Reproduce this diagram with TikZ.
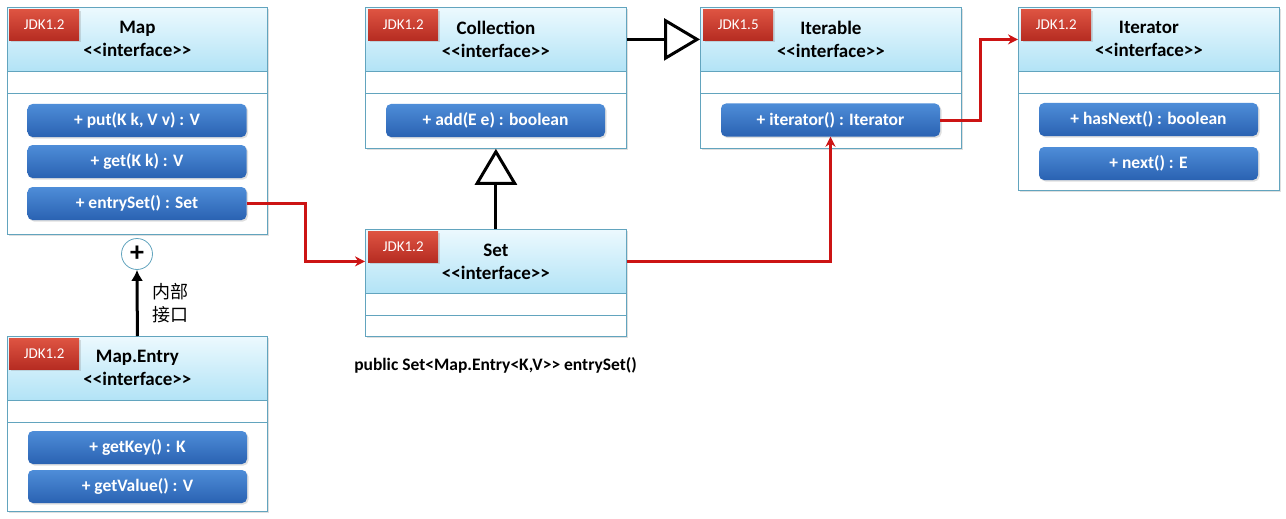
\documentclass[tikz,border=0pt]{standalone}
\usepackage{fontspec}
\setmainfont{Carlito}
\newfontfamily\cjkfont{Noto Sans CJK SC}
\usetikzlibrary{arrows.meta,shadows,positioning}

\definecolor{boxline}{RGB}{98,164,190}
\definecolor{headtop}{RGB}{236,249,254}
\definecolor{headbot}{RGB}{178,227,246}
\definecolor{btntop}{RGB}{78,141,216}
\definecolor{btnbot}{RGB}{42,98,178}
\definecolor{jdktop}{RGB}{222,84,66}
\definecolor{jdkbot}{RGB}{182,44,34}
\definecolor{linkred}{RGB}{204,20,20}

\newcommand\iface{<{}<interface>{}>}

\tikzset{
  softshadow/.style={drop shadow={shadow xshift=1.5pt,shadow yshift=-1.5pt,opacity=0.25}},
  umlbox/.style={draw=boxline, fill=white, line width=0.8pt, anchor=north west,
    inner sep=0pt, softshadow},
  head/.style={draw=boxline, line width=0.8pt, top color=headtop, bottom color=headbot,
    anchor=north west, inner sep=0pt, minimum height=64pt, align=center,
    font=\fontsize{19}{23}\selectfont\bfseries},
  attr/.style={draw=boxline, line width=0.8pt, fill=white, anchor=north west,
    inner sep=0pt, minimum height=22pt},
  jdk/.style={top color=jdktop, bottom color=jdkbot, text=white, anchor=north west,
    minimum width=70pt, minimum height=31pt, inner sep=0pt,
    font=\fontsize{15}{18}\selectfont, softshadow},
  method/.style={rounded corners=5pt, top color=btntop, bottom color=btnbot, text=white,
    minimum width=219pt, minimum height=33pt, inner sep=0pt,
    font=\fontsize{17.5}{20}\selectfont\bfseries, softshadow},
  realize/.style={line width=3pt, -{Triangle[open,length=36pt,width=42pt]}},
  uses/.style={draw=linkred, line width=3pt, -{Stealth[length=10pt,width=10pt]}},
}

\begin{document}
\begin{tikzpicture}[x=1pt,y=-1pt]
  \useasboundingbox (0,0) rectangle (1286,519);

% Map
  \node[umlbox, minimum width=260pt, minimum height=227pt] (mapbox) at (7,7) {};
  \node[head, minimum width=260pt] (map) at (7,7) {Map\\\iface};
  \node[attr, minimum width=260pt] (mapattr) at (7,71) {};
  \node[jdk] (mapjdk) at (9,9) {JDK1.2};
  \node[method] (put) at (137,120.5) {+ put(K k, V v) : V};
  \node[method] (get) at (137,161.5) {+ get(K k) : V};
  \node[method] (entryset) at (137,203.5) {+ entrySet() : Set};

% Map.Entry
  \node[umlbox, minimum width=260pt, minimum height=175pt] (entrybox) at (7,336) {};
  \node[head, minimum width=260pt] (entry) at (7,336) {Map.Entry\\\iface};
  \node[attr, minimum width=260pt] (entryattr) at (7,400) {};
  \node[jdk] (entryjdk) at (9,338) {JDK1.2};
  \node[method] (getkey) at (137.5,447.5) {+ getKey() : K};
  \node[method] (getvalue) at (137.5,486.5) {+ getValue() : V};

% Collection
  \node[umlbox, minimum width=261pt, minimum height=141pt] (collbox) at (365,7) {};
  \node[head, minimum width=261pt] (coll) at (365,7) {Collection\\\iface};
  \node[attr, minimum width=261pt] (collattr) at (365,71) {};
  \node[jdk] (colljdk) at (368,9) {JDK1.2};
  \node[method] (add) at (495.5,120.5) {+ add(E e) : boolean};

% Set
  \node[umlbox, minimum width=261pt, minimum height=107pt] (setbox) at (365,229) {};
  \node[head, minimum width=261pt] (set) at (365,229) {Set\\\iface};
  \node[attr, minimum width=261pt] (setattr) at (365,293) {};
  \node[jdk] (setjdk) at (368,231) {JDK1.2};
  \node[font=\fontsize{17.5}{20}\selectfont\bfseries] (setsig) at (495.5,365)
    {public Set<Map.Entry<K,V>{}> entrySet()};

% Iterable
  \node[umlbox, minimum width=261pt, minimum height=141pt] (iterablebox) at (700,7) {};
  \node[head, minimum width=261pt] (iterable) at (700,7) {Iterable\\\iface};
  \node[attr, minimum width=261pt] (iterableattr) at (700,71) {};
  \node[jdk] (iterablejdk) at (703,9) {JDK1.5};
  \node[method] (iteratorm) at (830.5,120) {+ iterator() : Iterator};

% Iterator
  \node[umlbox, minimum width=261pt, minimum height=183pt] (iteratorbox) at (1018,7) {};
  \node[head, minimum width=261pt] (iterator) at (1018,7) {Iterator\\\iface};
  \node[attr, minimum width=261pt] (iteratorattr) at (1018,71) {};
  \node[jdk] (iteratorjdk) at (1021,9) {JDK1.2};
  \node[method] (hasnext) at (1148.5,119.5) {+ hasNext() : boolean};
  \node[method] (next) at (1148.5,163.5) {+ next() : E};

% inner interface
  \node[circle, draw=boxline, fill=white, line width=0.8pt, minimum size=31pt, inner sep=0pt,
    font=\fontsize{28}{28}\selectfont\bfseries] (inner) at (137,254) {+};
  \draw[line width=3pt, -{Latex[length=11pt,width=12pt]}] (entry.north) -- (inner.south)
    node[pos=0.5, right=10pt, align=left, font=\cjkfont\fontsize{18}{23}\selectfont]
    (innerlbl) {内部\\接口};

% inheritance
  \draw[realize] (set.north) -- (collbox.south);
  \draw[realize] (coll.east) -- (iterable.west);

% red links
  \draw[uses] (entryset.east) -- ++(59,0) |- (set.west);
  \draw[uses] (set.east) -| (iteratorm.south);
  \draw[uses] (iteratorm.east) -- ++(40,0) |- (iterator.west);
\end{tikzpicture}
\end{document}
